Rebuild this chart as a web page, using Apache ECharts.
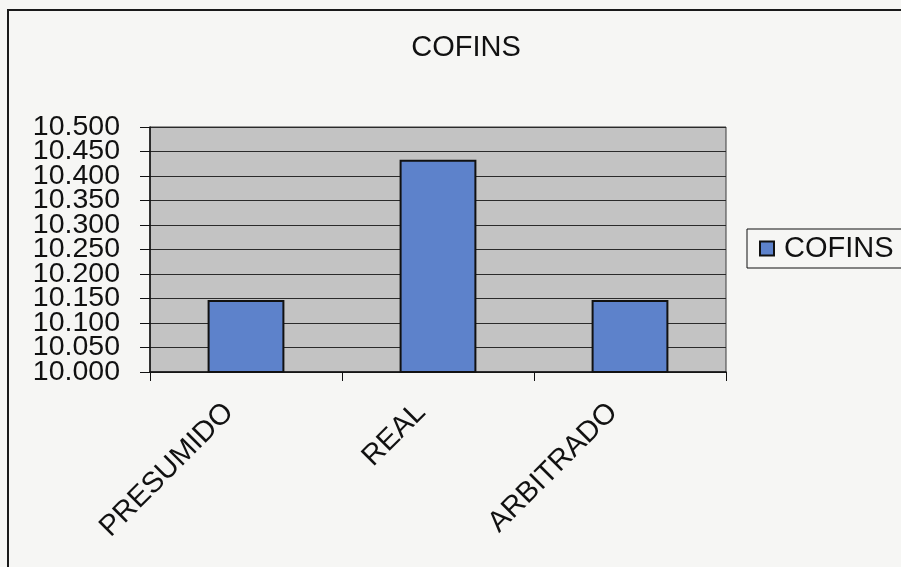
<!DOCTYPE html>
<html>
<head>
<meta charset="utf-8">
<script src="https://cdn.jsdelivr.net/npm/echarts@6/dist/echarts.min.js"></script>
<style>
  html, body { margin: 0; padding: 0; background: #f6f6f4; }
  #chart { width: 901px; height: 567px; }
</style>
</head>
<body>
<div id="chart"></div>
<script>
// COFINS por regime de tributação
const categories = ['PRESUMIDO', 'REAL', 'ARBITRADO'];
const cofinsValues = [10147, 10433, 10147];
const seriesName = 'COFINS';
const yTicks = [10000, 10050, 10100, 10150, 10200, 10250, 10300, 10350, 10400, 10450, 10500];
const yStep = 50;

// Brazilian thousands separator: 10500 -> "10.500"
function formatThousands(v) {
  return Math.round(v).toString().replace(/\B(?=(\d{3})+(?!\d))/g, '.');
}

// The tick labels are packed tightly, so they are split over two
// overlaid value axes (alternate ticks) to keep every label visible.
const evenTicks = yTicks.filter((_, i) => i % 2 === 0);
const oddTicks = yTicks.filter((_, i) => i % 2 === 1);

const font = '"Liberation Sans", Arial, sans-serif';
const chart = echarts.init(document.getElementById('chart'), null, { renderer: 'canvas' });

const labelStyle = {
  margin: 30,
  fontFamily: font,
  fontSize: 28.5,
  color: '#111',
  hideOverlap: false,
  showMinLabel: true,
  showMaxLabel: true,
  formatter: formatThousands
};

chart.setOption({
  backgroundColor: '#f6f6f4',
  animation: false,
  graphic: [{
    type: 'rect',
    shape: { x: 8, y: 10, width: 920, height: 620 },
    style: { fill: 'none', stroke: '#1a1a1a', lineWidth: 2 },
    silent: true
  }],
  title: {
    text: 'COFINS',
    left: 461,
    top: 28,
    textAlign: 'center',
    textStyle: { fontFamily: font, fontSize: 29, fontWeight: 'normal', color: '#111' }
  },
  legend: {
    data: [seriesName],
    left: 747,
    top: 229,
    orient: 'vertical',
    icon: 'rect',
    itemWidth: 14,
    itemHeight: 14,
    padding: [5, 12, 5, 12],
    borderColor: '#111',
    borderWidth: 1,
    backgroundColor: '#f6f6f4',
    textStyle: { fontFamily: font, fontSize: 29, color: '#111', padding: [0, 0, 0, 5] }
  },
  grid: {
    left: 150,
    right: 175,
    top: 127,
    bottom: 195,
    show: true,
    backgroundColor: '#c3c3c3',
    borderColor: '#3a3a3a',
    borderWidth: 1
  },
  xAxis: {
    type: 'category',
    data: categories,
    axisLine: { show: true, lineStyle: { color: '#111', width: 1.5 } },
    axisTick: { show: true, length: 9, lineStyle: { color: '#111', width: 1 } },
    axisLabel: {
      rotate: 45,
      margin: 19,
      interval: 0,
      padding: [0, 24, 0, 0],
      fontFamily: font,
      fontSize: 29,
      color: '#111'
    }
  },
  yAxis: [{
    type: 'value',
    position: 'left',
    min: yTicks[0],
    max: yTicks[yTicks.length - 1],
    interval: yStep,
    axisLine: { show: true, lineStyle: { color: '#111', width: 1.5 } },
    axisTick: { show: true, length: 10, lineStyle: { color: '#111', width: 1 } },
    axisLabel: Object.assign({ customValues: evenTicks }, labelStyle),
    splitLine: { show: true, lineStyle: { color: '#2a2a2a', width: 1.2 } }
  }, {
    type: 'value',
    position: 'left',
    offset: 0,
    min: yTicks[0],
    max: yTicks[yTicks.length - 1],
    interval: yStep,
    axisLine: { show: false },
    axisTick: { show: false },
    axisLabel: Object.assign({ customValues: oddTicks }, labelStyle),
    splitLine: { show: false }
  }],
  series: [{
    name: seriesName,
    type: 'bar',
    yAxisIndex: 0,
    data: cofinsValues,
    barWidth: '40%',
    itemStyle: { color: '#5d82cb', borderColor: '#111', borderWidth: 2 }
  }]
});
</script>
</body>
</html>
